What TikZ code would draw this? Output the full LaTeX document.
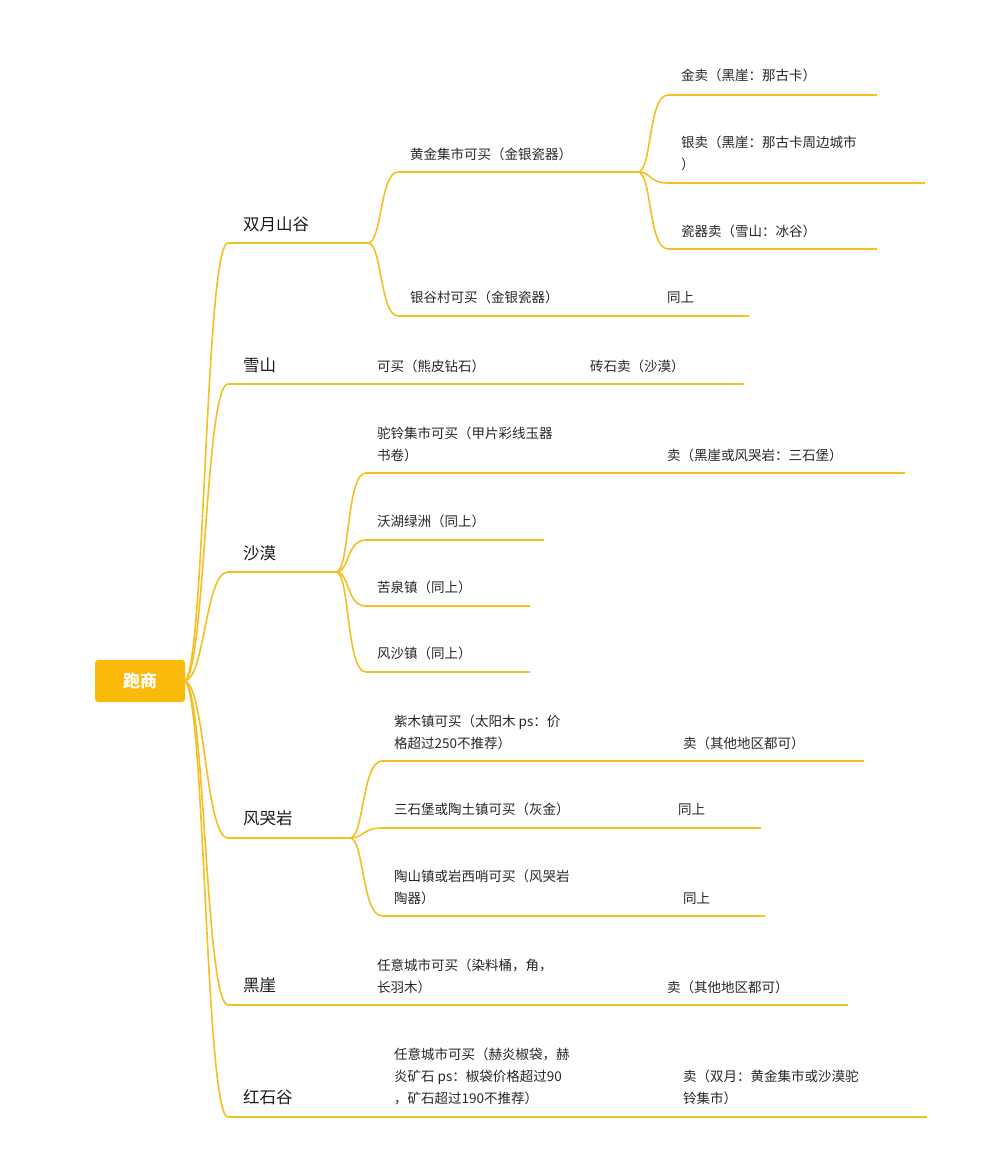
\documentclass[tikz,border=0pt]{standalone}
\usepackage{fontspec}
\newfontfamily\cjk{Noto Sans CJK SC}
\definecolor{ln}{HTML}{F5BE22}
\definecolor{rootc}{HTML}{FBB90A}
\begin{document}
\begin{tikzpicture}[x=1pt,y=-1pt,
  lnk/.style={draw=ln,line width=1.6pt},
  t/.style={anchor=west,inner sep=0pt,font=\cjk\fontsize{13.5}{22}\selectfont,align=left,text=black!85},
  t1/.style={anchor=west,inner sep=0pt,font=\cjk\fontsize{16.5}{22}\selectfont,text=black!90}]
\useasboundingbox (0,0) rectangle (984,1175);
\node[fill=rootc,rounded corners=3pt,minimum width=90pt,minimum height=42pt,text=white,font=\cjk\bfseries\fontsize{17}{20}\selectfont] (root) at (140,681) {跑商};
\coordinate (r) at (184,681);
% level 1
\foreach \y/\e in {243/368,384/744,572/336,838/350,1005/848,1117/927}{
  \draw[lnk] (r) .. controls (205,681) and (205,\y) .. (228,\y) -- (\e,\y);
}
\node[t1] (a) at (243,224) {双月山谷};
\node[t1] (b) at (243,365) {雪山};
\node[t1] (c) at (243,553) {沙漠};
\node[t1] (d) at (243,818) {风哭岩};
\node[t1] (e) at (243,985) {黑崖};
\node[t1] (f) at (243,1097) {红石谷};
% 双月山谷 children
\foreach \y/\e in {172/638,316/749}{
  \draw[lnk] (368,243) .. controls (382,243) and (380,\y) .. (398,\y) -- (\e,\y);}
\foreach \y/\e in {95/877,183/925,249/877}{
  \draw[lnk] (638,172) .. controls (652,172) and (648,\y) .. (668,\y) -- (\e,\y);}
\node[t] (a1) at (410,154) {黄金集市可买（金银瓷器）};
\node[t] (a11) at (681,75) {金卖（黑崖：那古卡）};
\node[t] (a12) at (681,153) {银卖（黑崖：那古卡周边城市\\）};
\node[t] (a13) at (681,231) {瓷器卖（雪山：冰谷）};
\node[t] (a2) at (410,297) {银谷村可买（金银瓷器）};
\node[t] (a2s) at (667,297) {同上};
% 雪山
\node[t] (b1) at (377,366) {可买（熊皮钻石）};
\node[t] (b2) at (590,366) {砖石卖（沙漠）};
% 沙漠
\foreach \y/\e in {473/905,540/544,606/530,672/530}{
  \draw[lnk] (336,572) .. controls (350,572) and (346,\y) .. (366,\y) -- (\e,\y);}
\node[t] (c1) at (377,444) {驼铃集市可买（甲片彩线玉器\\书卷）};
\node[t] (c1s) at (667,455) {卖（黑崖或风哭岩：三石堡）};
\node[t] (c2) at (377,521) {沃湖绿洲（同上）};
\node[t] (c3) at (377,587) {苦泉镇（同上）};
\node[t] (c4) at (377,653) {风沙镇（同上）};
% 风哭岩
\foreach \y/\e in {761/864,828/761,916/765}{
  \draw[lnk] (350,838) .. controls (364,838) and (362,\y) .. (382,\y) -- (\e,\y);}
\node[t] (d1) at (394,732) {紫木镇可买（太阳木 ps：价\\格超过250不推荐）};
\node[t] (d1s) at (683,743) {卖（其他地区都可）};
\node[t] (d2) at (394,809) {三石堡或陶土镇可买（灰金）};
\node[t] (d2s) at (678,809) {同上};
\node[t] (d3) at (394,887) {陶山镇或岩西哨可买（风哭岩\\陶器）};
\node[t] (d3s) at (683,898) {同上};
% 黑崖
\node[t] (e1) at (377,976) {任意城市可买（染料桶，角，\\长羽木）};
\node[t] (e1s) at (667,987) {卖（其他地区都可）};
% 红石谷
\node[t] (f1) at (394,1076) {任意城市可买（赫炎椒袋，赫\\炎矿石 ps：椒袋价格超过90\\，矿石超过190不推荐）};
\node[t] (f1s) at (683,1087) {卖（双月：黄金集市或沙漠驼\\铃集市）};
\end{tikzpicture}
\end{document}
